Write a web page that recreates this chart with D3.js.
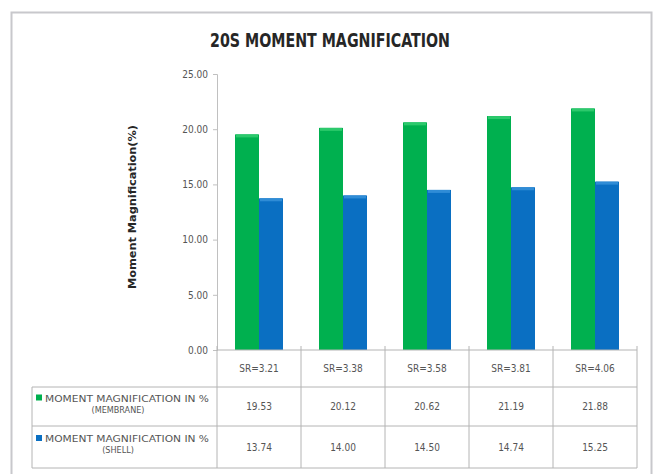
<!DOCTYPE html>
<html>
<head>
<meta charset="utf-8">
<script src="https://cdn.jsdelivr.net/npm/d3@7"></script>
<style>
  body { margin: 0; background: #fff; }
  text { font-family: "Liberation Sans Narrow", "DejaVu Sans Condensed", "Liberation Sans", Arial, sans-serif; }
</style>
</head>
<body>
<svg id="chart" width="659" height="474"></svg>
<script>
var categories = ['SR=3.21', 'SR=3.38', 'SR=3.58', 'SR=3.81', 'SR=4.06'];
var membrane = [19.53, 20.12, 20.62, 21.19, 21.88];
var shell = [13.74, 14.00, 14.50, 14.74, 15.25];
var seriesNames = ['MOMENT MAGNIFICATION  IN %', 'MOMENT MAGNIFICATION  IN %'];
var seriesSub = ['(MEMBRANE)', '(SHELL)'];
var yTicks = [0, 5, 10, 15, 20, 25];

var colors = ['#00b04f', '#0a6fc2'];
var caps = ['#2cc96c', '#2f8cd6'];

var svg = d3.select('#chart');

// outer frame
svg.append('rect')
  .attr('x', 11.5).attr('y', 12.5)
  .attr('width', 640).attr('height', 470)
  .attr('fill', '#fff')
  .attr('stroke', '#c8c8cc').attr('stroke-width', 2);

svg.append('text')
  .attr('x', 330).attr('y', 47)
  .attr('text-anchor', 'middle')
  .attr('font-size', 19).attr('font-weight', 'bold')
  .attr('fill', '#262626')
  .attr('textLength', 240).attr('lengthAdjust', 'spacingAndGlyphs')
  .text('20S MOMENT MAGNIFICATION');

var left = 217, right = 637;
var x = d3.scaleBand().domain(categories).range([left, right]);
var x1 = d3.scaleBand().domain([0, 1]).range([0, x.bandwidth()]).paddingOuter(0.75);
var y = d3.scaleLinear().domain([0, 25]).range([350, 74]);

// y axis
var yAxis = d3.axisLeft(y).tickValues(yTicks).tickFormat(d3.format('.2f')).tickSize(4);
var ga = svg.append('g').attr('transform', 'translate(' + left + ',0)').call(yAxis);
ga.select('.domain').attr('stroke', '#c0c0c0');
ga.selectAll('.tick line').attr('stroke', '#c0c0c0');
ga.selectAll('.tick text').attr('font-size', 10).attr('fill', '#555').attr('x', -9);

svg.append('text')
  .attr('transform', 'translate(136,' + 207 + ') rotate(-90)')
  .attr('text-anchor', 'middle')
  .attr('font-size', 10).attr('font-weight', 'bold')
  .attr('fill', '#262626')
  .attr('textLength', 164).attr('lengthAdjust', 'spacingAndGlyphs')
  .text('Moment Magnification(%)');

// bars
var series = [membrane, shell];
series.forEach(function (vals, s) {
  var g = svg.append('g');
  g.selectAll('rect.bar')
    .data(vals)
    .enter().append('rect')
    .attr('class', 'bar')
    .attr('x', function (d, i) { return x(categories[i]) + x1(s); })
    .attr('y', function (d) { return y(d); })
    .attr('width', x1.bandwidth())
    .attr('height', function (d) { return y(0) - y(d); })
    .attr('fill', colors[s]);
  g.selectAll('rect.cap')
    .data(vals)
    .enter().append('rect')
    .attr('class', 'cap')
    .attr('x', function (d, i) { return x(categories[i]) + x1(s) + 1; })
    .attr('y', function (d) { return y(d); })
    .attr('width', x1.bandwidth() - 2)
    .attr('height', 3)
    .attr('fill', caps[s]);
});

// data table
var rowY = [350, 387, 426, 468];
var tableLeft = 32;
var line = '#b4b4b4';
var tg = svg.append('g');
tg.append('line').attr('x1', left).attr('x2', right).attr('y1', rowY[0]).attr('y2', rowY[0]).attr('stroke', line);
[1, 2, 3].forEach(function (r) {
  tg.append('line').attr('x1', tableLeft).attr('x2', right).attr('y1', rowY[r]).attr('y2', rowY[r]).attr('stroke', line);
});
tg.append('line').attr('x1', tableLeft).attr('x2', tableLeft).attr('y1', rowY[1]).attr('y2', rowY[3]).attr('stroke', line);
categories.concat(['end']).forEach(function (c, i) {
  var xx = i < categories.length ? x(c) : right;
  tg.append('line').attr('x1', xx).attr('x2', xx).attr('y1', rowY[0] - 4).attr('y2', rowY[3]).attr('stroke', line);
});

tg.selectAll('text.cat')
  .data(categories)
  .enter().append('text')
  .attr('x', function (d) { return x(d) + x.bandwidth() / 2; })
  .attr('y', (rowY[0] + rowY[1]) / 2 + 3.5)
  .attr('text-anchor', 'middle')
  .attr('font-size', 10).attr('fill', '#555')
  .text(function (d) { return d; });

series.forEach(function (vals, s) {
  var cy = (rowY[s + 1] + rowY[s + 2]) / 2;
  tg.selectAll('text.v' + s)
    .data(vals)
    .enter().append('text')
    .attr('x', function (d, i) { return x(categories[i]) + x.bandwidth() / 2; })
    .attr('y', cy + 3.5)
    .attr('text-anchor', 'middle')
    .attr('font-size', 10).attr('fill', '#555')
    .text(function (d) { return d.toFixed(2); });
  tg.append('rect')
    .attr('x', 36).attr('y', cy - 12)
    .attr('width', 6).attr('height', 6)
    .attr('fill', colors[s]);
  tg.append('text')
    .attr('x', 45).attr('y', cy - 5)
    .attr('font-size', 9).attr('fill', '#555')
    .attr('textLength', 164).attr('lengthAdjust', 'spacingAndGlyphs')
    .text(seriesNames[s]);
  tg.append('text')
    .attr('x', 118).attr('y', cy + 6)
    .attr('text-anchor', 'middle')
    .attr('font-size', 9).attr('fill', '#555')
    .text(seriesSub[s]);
});
</script>
</body>
</html>
